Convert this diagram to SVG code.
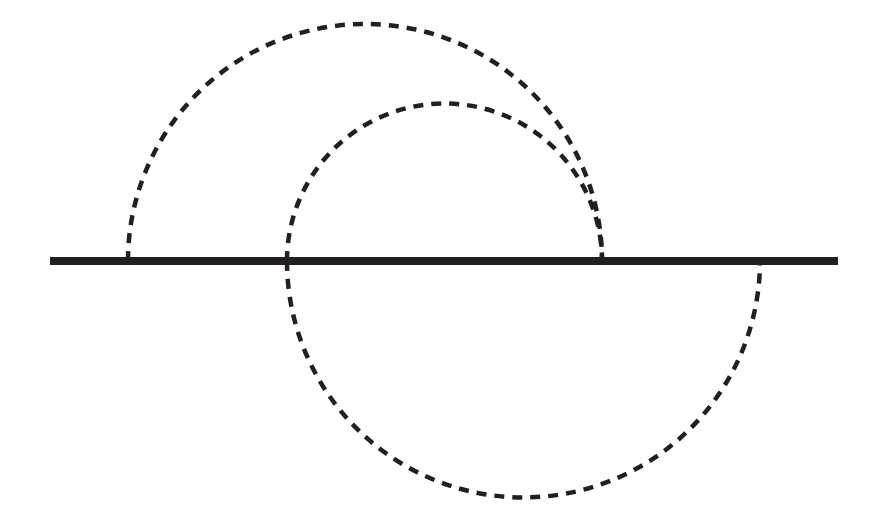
<svg xmlns="http://www.w3.org/2000/svg" width="872" height="522" viewBox="0 0 872 522">
<style>
.arc{fill:none;stroke:#231f20;stroke-width:4.5;stroke-dasharray:10 8}
.base{stroke:#231f20;stroke-width:8}
</style>
<rect width="872" height="522" fill="#fff"/>
<g id="connectors">
<path id="arc-big-top" class="arc" d="M128 261 A237 237 0 0 1 602 261"/>
<path id="arc-small-top" class="arc" d="M287 261 A157.5 157.5 0 0 1 602 261"/>
<path id="arc-bottom" class="arc" d="M287 261 A236.5 236.5 0 0 0 760 261"/>
</g>
<g id="baseline">
<line class="base" x1="50" y1="261" x2="838" y2="261"/>
</g>
</svg>
